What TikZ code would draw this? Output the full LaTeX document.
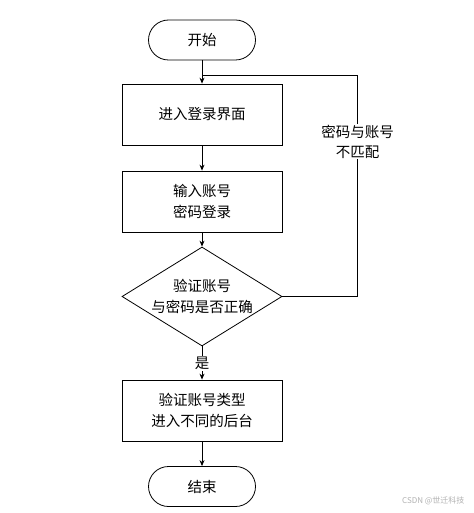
\documentclass[tikz,border=0pt]{standalone}
\usepackage{fontspec}
\setmainfont{Noto Sans CJK SC}
\usetikzlibrary{arrows.meta,shapes.geometric}
\begin{document}
\begin{tikzpicture}[x=1pt,y=-1pt,
  base/.style={draw=black,line width=0.8pt,font=\fontsize{14.5}{21}\selectfont,align=center,inner sep=0pt},
  term/.style={base,rounded corners=20pt,minimum width=107pt,minimum height=40pt},
  proc/.style={base,minimum width=160pt,minimum height=61pt},
  dec/.style={base,diamond,aspect=1.6,minimum width=160pt,minimum height=99pt},
  conn/.style={line width=0.8pt,-{Stealth[length=6pt,width=5pt]}},
  lnk/.style={line width=0.8pt},
  lbl/.style={fill=white,font=\fontsize{14.5}{20}\selectfont,align=center,inner sep=1pt}]
\useasboundingbox[fill=white] (0,0) rectangle (473,513);
\node[term] (start) at (202,40) {开始};
\node[proc] (p1) at (202,114.5) {进入登录界面};
\node[proc] (p2) at (202,201.5) {输入账号\\密码登录};
\node[dec] (d) at (202,296.5) {验证账号\\与密码是否正确};
\node[proc] (p3) at (202,410.5) {验证账号类型\\进入不同的后台};
\node[term] (end) at (202,486.5) {结束};
\coordinate (j) at (202,75);
\coordinate (c1) at (357.5,296.5);
\coordinate (c2) at (357.5,75);
\draw[conn] (start) -- (p1);
\draw[conn] (p1) -- (p2);
\draw[conn] (p2) -- (d);
\draw[conn] (d) -- node[lbl,pos=0.52] (yes) {是} (p3);
\draw[conn] (p3) -- (end);
\draw[lnk] (d.east) -- (c1) -- node[lbl,pos=0.70] (no) {密码与账号\\不匹配} (c2) -- (j);
\node[text=gray!60,font=\fontsize{8}{10}\selectfont,anchor=east] (wm) at (468,501) {CSDN @世迁科技};
\end{tikzpicture}
\end{document}
